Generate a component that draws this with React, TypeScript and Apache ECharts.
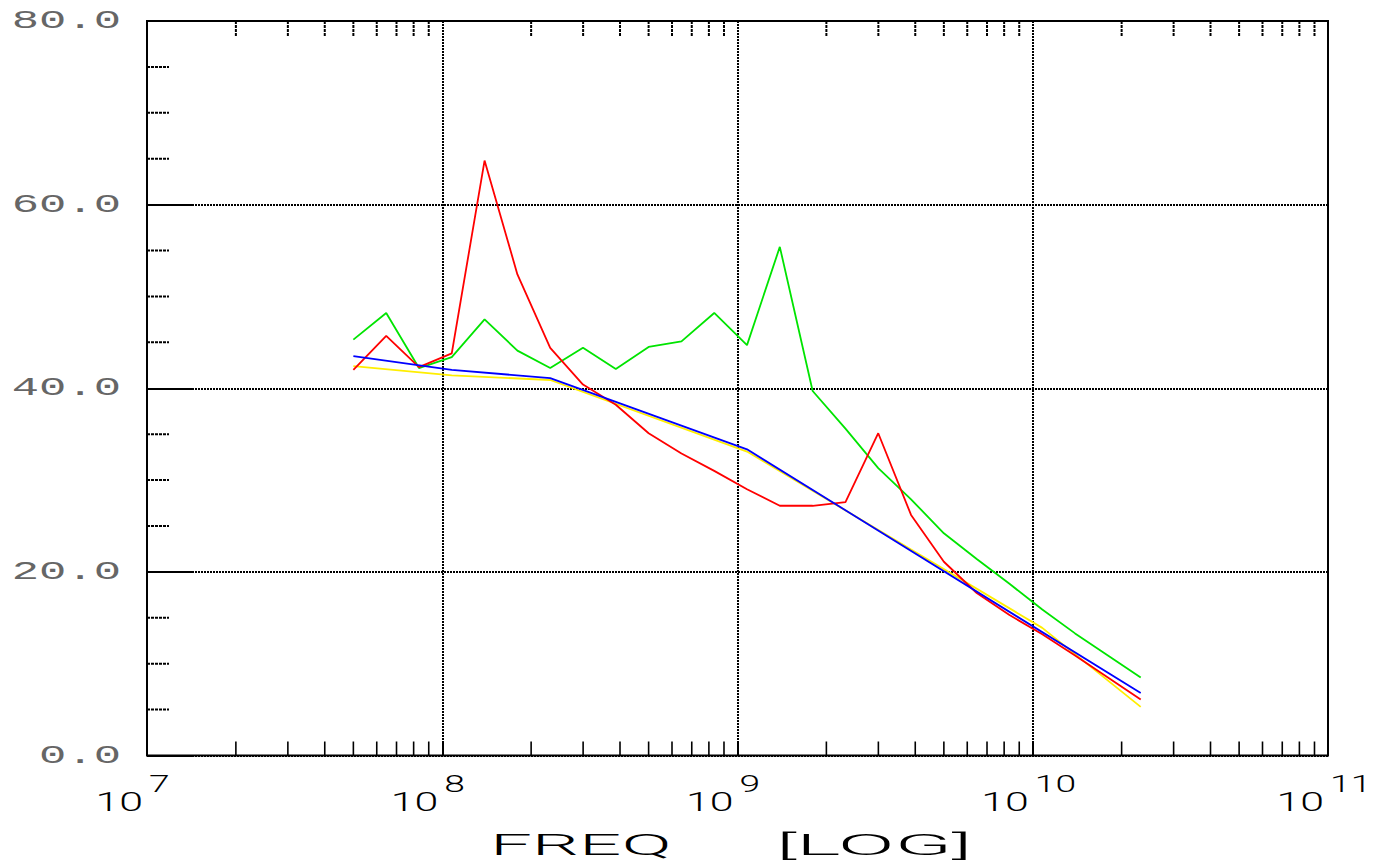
import React, { useEffect, useRef } from 'react';
import * as echarts from 'echarts';

// ---------- data ----------
const freqs = [
  5.0e7, 6.46e7, 8.34e7, 1.077e8, 1.391e8, 1.797e8, 2.321e8, 2.997e8, 3.871e8,
  5.0e8, 6.46e8, 8.34e8, 1.077e9, 1.391e9, 1.797e9, 2.321e9, 2.997e9, 3.871e9,
  5.0e9, 6.46e9, 8.34e9, 1.077e10, 1.391e10, 1.797e10, 2.321e10,
];
const redValues = [
  42.0, 45.7, 42.3, 43.8, 64.8, 52.4, 44.4, 40.4, 38.2, 35.1, 32.9, 31.0, 29.0,
  27.2, 27.2, 27.6, 35.1, 26.2, 21.1, 17.7, 15.3, 13.2, 10.9, 8.5, 6.1,
];
const greenValues = [
  45.3, 48.2, 42.2, 43.4, 47.5, 44.1, 42.2, 44.4, 42.1, 44.5, 45.1, 48.2, 44.7,
  55.4, 39.7, 35.6, 31.3, 27.9, 24.2, 21.4, 18.7, 15.9, 13.3, 10.9, 8.5,
];
const blueFreqs = [5.0e7, 1.077e8, 2.321e8, 1.077e9, 2.321e10];
const blueValues = [43.5, 42.0, 41.1, 33.35, 6.8];
const yellowFreqs = [5.0e7, 1.077e8, 2.321e8, 1.077e9, 1.077e10, 2.321e10];
const yellowValues = [42.4, 41.4, 40.9, 33.1, 13.9, 5.3];

const yTickValues = [0, 20, 40, 60, 80];
const yTickLabels = ['0.0', '20.0', '40.0', '60.0', '80.0'];
const yMinorValues = [5, 10, 15, 25, 30, 35, 45, 50, 55, 65, 70, 75];
const xDecades = [1e7, 1e8, 1e9, 1e10, 1e11];
const xExponents = ['7', '8', '9', '10', '11'];
const minorMantissas = [2, 3, 4, 5, 6, 7, 8, 9];
const xTitleWords = ['FREQ', '[LOG]'];

const MONO = '"Liberation Mono", "DejaVu Sans Mono", monospace';
const THIN = 'Roboto, "Liberation Sans", sans-serif';

export default function App() {
  const ref = useRef<HTMLDivElement>(null);
  useEffect(() => {
    if (!ref.current) return;
    const chart = echarts.init(ref.current, null, { renderer: 'svg' });

    const minorFreqs: number[] = [];
    xDecades.slice(0, 4).forEach((d) => minorMantissas.forEach((m) => minorFreqs.push(m * d)));

    const lineSeries = (name: string, xs: number[], ys: number[], color: string, z: number) => ({
      type: 'line',
      name,
      data: xs.map((x, i) => [x, ys[i]]),
      showSymbol: false,
      symbol: 'none',
      lineStyle: { color, width: 1.8 },
      z,
    });

    const gridLine = { color: '#000', width: 2, type: [2, 1] };

    const option: any = {
      animation: false,
      backgroundColor: '#fff',
      grid: {
        left: 147,
        right: 55,
        top: 21,
        bottom: 112.5,
        show: true,
        borderColor: '#000',
        borderWidth: 2,
        backgroundColor: 'transparent',
      },
      xAxis: {
        type: 'log',
        logBase: 10,
        min: 1e7,
        max: 1e11,
        axisLine: { show: false },
        axisTick: { show: true, inside: true, length: 14, lineStyle: { color: '#000', width: 2 } },
        axisLabel: { show: false },
        splitLine: { show: true, lineStyle: gridLine },
        minorTick: { show: false },
      },
      yAxis: {
        type: 'value',
        min: 0,
        max: 80,
        interval: 20,
        axisLine: { show: false },
        axisTick: { show: true, inside: true, length: 46, lineStyle: { color: '#000', width: 2 } },
        axisLabel: { show: false },
        splitLine: { show: true, lineStyle: gridLine },
      },
      graphic: [
        {
          type: 'text',
          x: 490,
          y: 845,
          scaleX: 2.48,
          style: { text: xTitleWords[0], font: `300 30px ${THIN}`, fill: '#000', align: 'left', verticalAlign: 'middle' },
        },
        {
          type: 'text',
          x: 776,
          y: 845,
          scaleX: 2.8,
          style: { text: xTitleWords[1], font: `300 30px ${THIN}`, fill: '#000', align: 'left', verticalAlign: 'middle' },
        },
      ],
      series: [
        lineSeries('yellow', yellowFreqs, yellowValues, '#ffee00', 3),
        lineSeries('green', freqs, greenValues, '#00e400', 4),
        lineSeries('red', freqs, redValues, '#ff0000', 5),
        lineSeries('blue', blueFreqs, blueValues, '#0000ff', 6),
        {
          type: 'custom',
          name: 'xMinorTicks',
          clip: false,
          silent: true,
          data: minorFreqs.map((f) => [f, 0]),
          renderItem: (params: any, api: any) => {
            const f = api.value(0);
            const pb = api.coord([f, 0]);
            const pt = api.coord([f, 80]);
            return {
              type: 'group',
              children: [
                { type: 'line', shape: { x1: pb[0], y1: pb[1], x2: pb[0], y2: pb[1] - 14 }, style: { stroke: '#000', lineWidth: 1.6 } },
                { type: 'line', shape: { x1: pt[0], y1: pt[1], x2: pt[0], y2: pt[1] + 15 }, style: { stroke: '#000', lineWidth: 2, lineDash: [3, 1] } },
              ],
            };
          },
          z: 10,
        },
        {
          type: 'custom',
          name: 'yMinorTicks',
          clip: false,
          silent: true,
          data: yMinorValues.map((v) => [1e7, v]),
          renderItem: (params: any, api: any) => {
            const p = api.coord([1e7, api.value(1)]);
            return {
              type: 'line',
              shape: { x1: p[0], y1: p[1], x2: p[0] + 22, y2: p[1] },
              style: { stroke: '#000', lineWidth: 2, lineDash: [3, 1] },
            };
          },
          z: 10,
        },
        {
          type: 'custom',
          name: 'yLabels',
          clip: false,
          silent: true,
          data: yTickValues.map((v) => [1e7, v]),
          renderItem: (params: any, api: any) => {
            const p = api.coord([1e7, api.value(1)]);
            return {
              type: 'text',
              x: p[0] - 26,
              y: p[1],
              scaleX: 1.75,
              style: {
                text: yTickLabels[params.dataIndex],
                font: `26px ${MONO}`,
                fill: '#666',
                align: 'right',
                verticalAlign: 'middle',
              },
            };
          },
          z: 10,
        },
        {
          type: 'custom',
          name: 'xLabels',
          clip: false,
          silent: true,
          data: xDecades.map((d) => [d, 0]),
          renderItem: (params: any, api: any) => {
            const p = api.coord([api.value(0), 0]);
            return {
              type: 'group',
              children: [
                {
                  type: 'text',
                  x: p[0] - 4,
                  y: p[1] + 47,
                  scaleX: 1.65,
                  style: { text: '10', font: `300 26px ${THIN}`, fill: '#000', align: 'right', verticalAlign: 'middle' },
                },
                {
                  type: 'text',
                  x: p[0] + 2,
                  y: p[1] + 28,
                  scaleX: 1.55,
                  style: { text: xExponents[params.dataIndex], font: `300 24px ${THIN}`, fill: '#000', align: 'left', verticalAlign: 'middle' },
                },
              ],
            };
          },
          z: 10,
        },
      ],
    };
    chart.setOption(option);
    return () => chart.dispose();
  }, []);
  return (
    <div
      ref={ref}
      style={{ position: 'fixed', left: 0, top: 0, width: 1383, height: 868, background: '#fff' }}
    />
  );
}
